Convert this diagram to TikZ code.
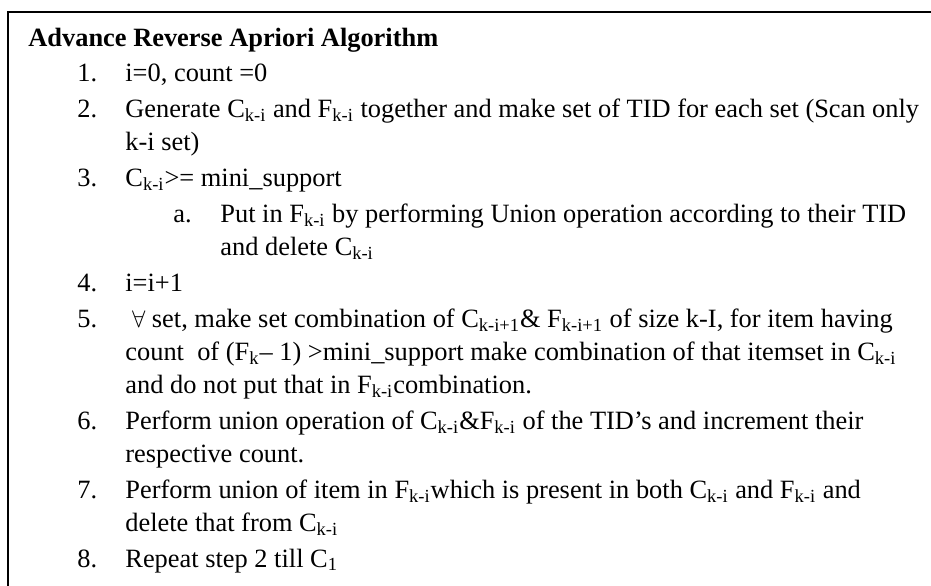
\documentclass[tikz,border=0pt]{standalone}
\usepackage{fontspec}
\setmainfont{Liberation Serif}
\usetikzlibrary{positioning}
\newcommand{\sbs}[1]{\textsubscript{#1}}

\begin{document}
\begin{tikzpicture}[
  x=0.5pt, y=-0.5pt,
  txt/.style={anchor=base west, inner sep=0pt, font=\fontsize{13.2}{15}\selectfont},
  num/.style={txt},
  head/.style={txt, font=\fontsize{13.2}{15}\selectfont\bfseries}
]
\useasboundingbox (0,0) rectangle (931,585);
\clip (0,0) rectangle (931,585);
\draw[line width=1pt] (8,12) rectangle (960,620);

\node[head] (title) at (28,46) {Advance Reverse Apriori Algorithm};

\node[num] (n1) at (77,81) {1.};
\node[txt] (t1) at (125,81) {i=0, count =0};

\node[num] (n2) at (77,117) {2.};
\node[txt] (t2) at (125,117) {Generate C\sbs{k-i} and F\sbs{k-i} together and make set of TID for each set (Scan only};
\node[txt] (t2b) at (125,150) {k-i set)};

\node[num] (n3) at (77,186) {3.};
\node[txt] (t3) at (125,186) {C\sbs{k-i}>= mini\_support};
\node[num] (na) at (173,222) {a.};
\node[txt] (ta) at (220,222) {Put in F\sbs{k-i} by performing Union operation according to their TID};
\node[txt] (tab) at (220,255) {and delete C\sbs{k-i}};

\node[num] (n4) at (77,291) {4.};
\node[txt] (t4) at (125,291) {i=i+1};

\node[num] (n5) at (77,327) {5.};
\node[txt] (t5) at (125,327) {\ $\forall$ set, make set combination of C\sbs{k-i+1}\& F\sbs{k-i+1} of size k-I, for item having};
\node[txt] (t5b) at (125,360) {count\ \ of (F\sbs{k}– 1) >mini\_support make combination of that itemset in C\sbs{k-i}};
\node[txt] (t5c) at (125,393) {and do not put that in F\sbs{k-i}combination.};

\node[num] (n6) at (77,429) {6.};
\node[txt] (t6) at (125,429) {Perform union operation of C\sbs{k-i}\&F\sbs{k-i} of the TID’s and increment their};
\node[txt] (t6b) at (125,462) {respective count.};

\node[num] (n7) at (77,498) {7.};
\node[txt] (t7) at (125,498) {Perform union of item in F\sbs{k-i}which is present in both C\sbs{k-i} and F\sbs{k-i} and};
\node[txt] (t7b) at (125,531) {delete that from C\sbs{k-i}};

\node[num] (n8) at (77,567) {8.};
\node[txt] (t8) at (125,567) {Repeat step 2 till C\sbs{1}};
\end{tikzpicture}
\end{document}
